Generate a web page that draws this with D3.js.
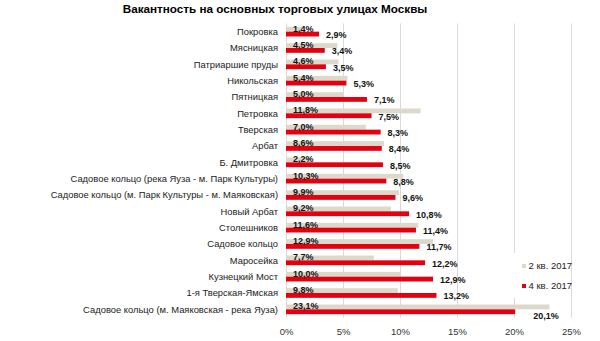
<!DOCTYPE html>
<html>
<head>
<meta charset="utf-8">
<script src="https://cdn.jsdelivr.net/npm/d3@7/dist/d3.min.js"></script>
<style>
  html, body { margin: 0; padding: 0; background: #fff; }
  svg { display: block; font-family: "Liberation Sans", Arial, sans-serif; }
</style>
</head>
<body>
<svg id="chart" width="600" height="341"></svg>
<script>
// Vacancy on the main shopping streets of Moscow, %
const streets = [
  "Покровка",
  "Мясницкая",
  "Патриаршие пруды",
  "Никольская",
  "Пятницкая",
  "Петровка",
  "Тверская",
  "Арбат",
  "Б. Дмитровка",
  "Садовое кольцо (река Яуза - м. Парк Культуры)",
  "Садовое кольцо (м. Парк Культуры - м. Маяковская)",
  "Новый Арбат",
  "Столешников",
  "Садовое кольцо",
  "Маросейка",
  "Кузнецкий Мост",
  "1-я Тверская-Ямская",
  "Садовое кольцо (м. Маяковская - река Яуза)"
];
const q2_2017 = [1.4, 4.5, 4.6, 5.4, 5.0, 11.8, 7.0, 8.6, 2.2, 10.3, 9.9, 9.2, 11.6, 12.9, 7.7, 10.0, 9.8, 23.1];
const q4_2017 = [2.9, 3.4, 3.5, 5.3, 7.1, 7.5, 8.3, 8.4, 8.5, 8.8, 9.6, 10.8, 11.4, 11.7, 12.2, 12.9, 13.2, 20.1];
const seriesNames = ["2 кв. 2017", "4 кв. 2017"];
const xTicks = [0, 5, 10, 15, 20, 25];
const title = "Вакантность на основных торговых улицах Москвы";

const colors = { "2 кв. 2017": "#dcd8ca", "4 кв. 2017": "#e3000f" };

const svg = d3.select("#chart");
const margin = { left: 286, right: 29, top: 23.5, bottom: 23.5 };
const W = 600, H = 341;

const x = d3.scaleLinear().domain([0, 25]).range([margin.left, W - margin.right]);
const y = d3.scaleBand().domain(streets).range([margin.top, H - margin.bottom])
  .paddingInner(0.41).paddingOuter(0.205);
const ySub = d3.scaleBand().domain(seriesNames).range([0, y.bandwidth()]);

const fmt = v => d3.format(".1f")(v).replace(".", ",") + "%";

const rows = streets.map((s, i) => ({ street: s, values: [q2_2017[i], q4_2017[i]] }));

// Title
svg.append("text")
  .attr("x", 275).attr("y", 12.5)
  .attr("text-anchor", "middle")
  .attr("font-size", 11.7).attr("font-weight", "bold")
  .attr("fill", "#000")
  .text(title);

// Vertical grid
svg.append("g")
  .selectAll("line").data(xTicks).join("line")
  .attr("x1", d => Math.round(x(d)) + 0.5).attr("x2", d => Math.round(x(d)) + 0.5)
  .attr("y1", margin.top).attr("y2", H - margin.bottom)
  .attr("stroke", "#d9d9d9").attr("stroke-width", 1);

// Bars
const groups = svg.append("g").selectAll("g").data(rows).join("g")
  .attr("transform", d => `translate(0,${y(d.street)})`);

groups.selectAll("rect")
  .data(d => seriesNames.map((n, k) => ({ name: n, value: d.values[k] })))
  .join("rect")
  .attr("x", x(0))
  .attr("y", d => ySub(d.name))
  .attr("width", d => x(d.value) - x(0))
  .attr("height", ySub.bandwidth())
  .attr("fill", d => colors[d.name]);

// Labels for the 2nd-quarter bars, sitting at the bar base
groups.append("text")
  .attr("x", x(0) + 7)
  .attr("y", ySub(seriesNames[0]) + ySub.bandwidth())
  .attr("font-size", 9).attr("font-weight", "bold").attr("fill", "#111")
  .text(d => fmt(d.values[0]));

// Labels for the 4th-quarter bars, just past the bar end
const lastStreet = streets[streets.length - 1];
groups.append("text")
  .attr("x", d => x(d.values[1]) + (d.street === lastStreet ? 18 : 7))
  .attr("y", d => ySub(seriesNames[1]) + ySub.bandwidth() + (d.street === lastStreet ? 4.5 : 1.5))
  .attr("font-size", 9).attr("font-weight", "bold").attr("fill", "#111")
  .text(d => fmt(d.values[1]));

// Category labels
svg.append("g").selectAll("text").data(streets).join("text")
  .attr("x", margin.left - 8)
  .attr("y", d => y(d) + y.bandwidth() / 2)
  .attr("dy", "0.35em")
  .attr("text-anchor", "end")
  .attr("font-size", 9.4).attr("fill", "#222")
  .text(d => d);

// X axis
const xAxis = d3.axisBottom(x).tickValues(xTicks).tickSize(0).tickPadding(0)
  .tickFormat(d => d + "%");
const gx = svg.append("g")
  .attr("transform", `translate(0,${H - margin.bottom})`)
  .call(xAxis);
gx.select(".domain").remove();
gx.selectAll("text")
  .attr("y", 10.5)
  .attr("font-family", "Liberation Sans, Arial, sans-serif")
  .attr("font-size", 9.5).attr("fill", "#333");

// Legend
const lg = svg.append("g");
lg.append("rect").attr("x", 509).attr("y", 253).attr("width", 61).attr("height", 45).attr("fill", "#fff");
seriesNames.forEach((n, k) => {
  const cy = 266 + k * 20;
  lg.append("rect").attr("x", 522).attr("y", cy - 2).attr("width", 4).attr("height", 4).attr("fill", colors[n]);
  lg.append("text").attr("x", 528.5).attr("y", cy).attr("dy", "0.35em")
    .attr("font-size", 9.5).attr("fill", "#222").text(n);
});
</script>
</body>
</html>
